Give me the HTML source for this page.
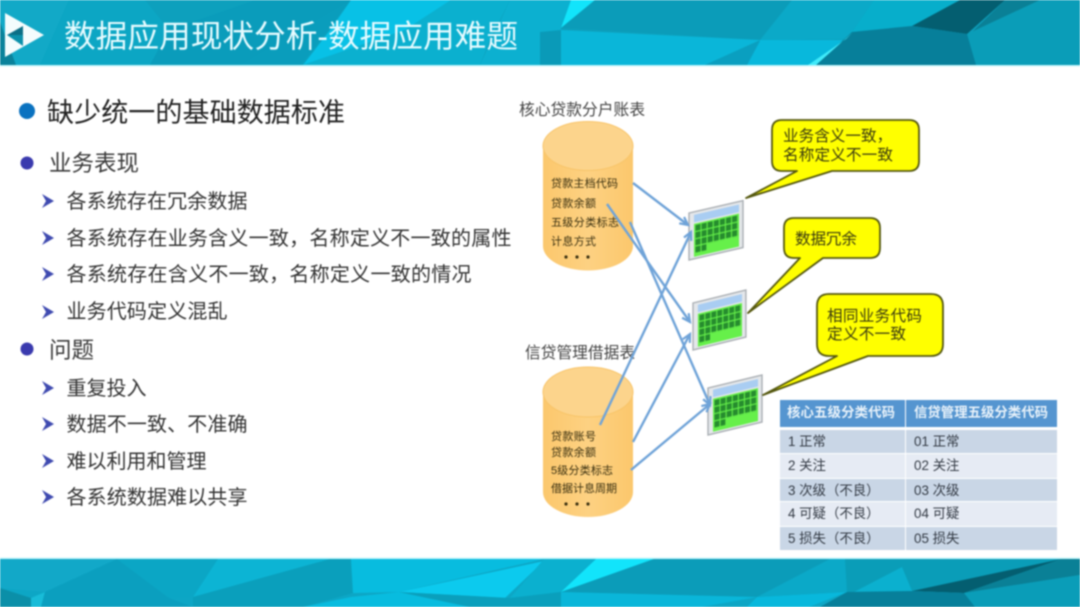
<!DOCTYPE html>
<html lang="zh"><head><meta charset="utf-8"><title>数据应用现状分析</title>
<style>
html,body{margin:0;padding:0;background:#fff;width:1080px;height:607px;overflow:hidden}
svg{display:block;filter:blur(.7px)}
text{font-family:"Liberation Sans","Noto Sans CJK SC",sans-serif}
.p{font-family:"Noto Sans CJK TC",sans-serif}
.b{fill:#333;font-size:20px}
.c{fill:#3a3010;font-size:11px}
.y{fill:#3a3a10;font-size:15.6px}
.t{fill:#333a44;font-size:13.4px}
.h{fill:#e8f2fa;font-size:13.4px;font-weight:700}
.l{stroke:#6fa3d8;stroke-width:2.4;fill:none;marker-end:url(#ah)}
</style></head><body>
<svg width="1080" height="607" viewBox="0 0 1080 607" xmlns="http://www.w3.org/2000/svg">
<defs>
<marker id="ah" markerWidth="12" markerHeight="12" refX="9" refY="5" orient="auto" markerUnits="userSpaceOnUse"><path d="M1 1L9 5L1 9" fill="none" stroke="#6fa3d8" stroke-width="2.200"/></marker>
<linearGradient id="cy" x1="0" x2="1" y1="0" y2="0"><stop offset="0" stop-color="#fbc76c"/><stop offset=".5" stop-color="#fdd182"/><stop offset="1" stop-color="#fbc76c"/></linearGradient>
<pattern id="gr" width="6.1" height="7.2" patternUnits="userSpaceOnUse" x="6.5" y="13.5"><rect width="5" height="6" fill="#268c2e"/></pattern>
<g id="scr">
<polygon points="0,0 54,0 54,47 0,47" fill="#e4e7ea" stroke="#a9aeb3" stroke-width="1.400"/>
<rect x="5" y="3" width="45" height="7.500" fill="#a9cdf2"/>
<rect x="5" y="12" width="45" height="33" fill="#66f04a"/>
<rect x="6.500" y="13.500" width="42.700" height="21.600" fill="url(#gr)"/>
<rect x="6.500" y="35.100" width="10.900" height="6.500" fill="url(#gr)"/>
</g>
</defs>
<rect width="1080" height="607" fill="#fff"/>

<!-- header -->
<rect width="1080" height="65" fill="#0da0bd"/>
<polygon points="0,0 69,0 40,65 0,65" fill="#12a9c7"/>
<polygon points="0,22 16,65 0,65" fill="#0a829b"/>
<polygon points="69,0 145,0 169,30 150,65 40,65" fill="#0ca6c4"/>
<polygon points="169,30 255,0 351,0 300,65 150,65" fill="#0a9cbb"/>
<polygon points="351,0 451,0 380,40 303,65 240,65" fill="#0a9fbc" opacity=".6"/>
<polygon points="351,0 451,0 405,30 303,65 330,30" fill="#08c1e6"/>
<polygon points="451,0 510,0 490,40 480,65 303,65 405,30" fill="#0bb0cf"/>
<polygon points="510,0 571,0 561,28 561,65 480,65" fill="#0cb0d0"/>
<polygon points="540,32 561,30 561,65 540,65" fill="#0a9ab8"/>
<polygon points="561,28 571,0 595,0" fill="#12e4fb"/>
<polygon points="561,28 595,0 792,0 763,40" fill="#0b9cb9"/>
<polygon points="561,30 760,40 705,65 561,65" fill="#0ab6d9"/>
<polygon points="760,40 846,40 808,65 747,65" fill="#08b8dc"/>
<polygon points="705,65 760,41 747,65" fill="#0a9fc0"/>
<polygon points="792,0 874,0 852,32 846,39 760,40" fill="#0ba9c8"/>
<polygon points="874,0 960,0 912,26 852,32" fill="#07aecb"/>
<polygon points="960,0 1005,0 967,34 912,26" fill="#045e70"/>
<polygon points="1005,0 1040,0 972,32" fill="#0a8096"/>
<polygon points="1040,0 1080,0 1080,65 976,65 967,34" fill="#0a9db8"/>
<polygon points="852,32 912,26 967,34 976,65 816,65" fill="#077f9a"/>
<polygon points="846,39 852,33 816,65 808,65" fill="#40eafa"/>
<rect y="65" width="1080" height="1.500" fill="#c8f5fa"/>

<!-- logo -->
<polygon points="5,13 44,35 5,57" fill="#f4fcfd"/>
<polygon points="7,35 23,26 23,35" fill="#0b6f86"/>
<polygon points="7,35 23,35 23,46" fill="#0b90aa"/>
<text x="64" y="47" font-size="31.500" fill="#e6fbff" textLength="454" lengthAdjust="spacingAndGlyphs">数据应用现状分析-数据应用难题</text>

<!-- bottom band -->
<rect y="559" width="1080" height="48" fill="#0da6c5"/>
<polygon points="0,559 117,559 45,592 0,588" fill="#12a8c8"/>
<polygon points="0,588 31,598 31,607 0,607" fill="#0b8fa8"/>
<polygon points="31,598 45,592 41,607 31,607" fill="#18bcd8"/>
<polygon points="117,559 218,559 193,597 169,598" fill="#0ba6c5"/>
<polygon points="117,559 169,598 193,607 41,607 45,592" fill="#0b9fbf"/>
<polygon points="218,559 330,559 193,597" fill="#0cb4d4"/>
<polygon points="330,559 351,559 353,593 303,607 193,607 193,597" fill="#0a9fbc"/>
<polygon points="351,559 544,559 399,592 353,593" fill="#08bcdf"/>
<polygon points="399,592 544,561 505,598" fill="#0ccaee"/>
<polygon points="544,559 596,559 561,592 510,598" fill="#0bb0cf"/>
<polygon points="303,607 351,597 399,592 470,607" fill="#08bcdf"/>
<polygon points="399,592 510,598 561,592 561,607 470,607" fill="#0a9fbc"/>
<polygon points="561,592 596,559 654,559" fill="#12e4fb"/>
<polygon points="561,592 654,559 830,559 757,597" fill="#0b9cb9"/>
<polygon points="561,592 757,597 702,607 561,607" fill="#0ab6d9"/>
<polygon points="757,597 847,592 809,607 747,607" fill="#08b8dc"/>
<polygon points="830,559 845,559 847,592 757,597" fill="#0ba9c8"/>
<polygon points="845,559 1061,559 912,591 847,592" fill="#0a9db8"/>
<polygon points="902,567 912,591 854,592" fill="#0bb0cf"/>
<polygon points="1061,559 964,593 912,591" fill="#045e70"/>
<polygon points="1061,559 1080,559 1080,575 964,593" fill="#0a8096"/>
<polygon points="1080,575 1080,607 975,607 964,593" fill="#0a9db8"/>
<polygon points="847,592 912,591 964,593 975,607 820,607" fill="#077f9a"/>
<rect y="557.500" width="1080" height="1.500" fill="#c8f5fa"/>

<!-- left bullets -->
<circle cx="27" cy="111" r="8" fill="#0a72c0"/>
<circle cx="27" cy="163" r="6.500" fill="#3a3aae"/>
<circle cx="27" cy="349" r="6.500" fill="#3a3aae"/>
<text x="47" y="122" font-size="27" fill="#222" textLength="298">缺少统一的基础数据标准</text>
<text x="49" y="171" font-size="22.500" fill="#3a3a3a" textLength="90">业务表现</text>
<text x="49" y="358" font-size="22.500" fill="#3a3a3a" textLength="45">问题</text>
<g fill="#3f4ab0">
<path d="M42 194L54 201L42 208L46 201Z"/>
<path d="M42 231L54 238L42 245L46 238Z"/>
<path d="M42 267L54 274L42 281L46 274Z"/>
<path d="M42 305L54 312L42 319L46 312Z"/>
<path d="M42 381L54 388L42 395L46 388Z"/>
<path d="M42 417L54 424L42 431L46 424Z"/>
<path d="M42 454L54 461L42 468L46 461Z"/>
<path d="M42 490L54 497L42 504L46 497Z"/>
</g>
<text class="b" x="66.500" y="208" textLength="181">各系统存在冗余数据</text>
<text class="b" x="66.500" y="245" textLength="445">各系统存在业务含义一致<tspan class="p">，</tspan>名称定义不一致的属性</text>
<text class="b" x="66.500" y="281" textLength="405">各系统存在含义不一致<tspan class="p">，</tspan>名称定义一致的情况</text>
<text class="b" x="66.500" y="318" textLength="161">业务代码定义混乱</text>
<text class="b" x="66.500" y="395" textLength="80">重复投入</text>
<text class="b" x="66.500" y="431" textLength="181">数据不一致<tspan class="p">、</tspan>不准确</text>
<text class="b" x="66.500" y="468" textLength="140">难以利用和管理</text>
<text class="b" x="66.500" y="504" textLength="181">各系统数据难以共享</text>

<!-- cylinders -->
<text x="519" y="115" font-size="15.700" fill="#444" textLength="126">核心贷款分户账表</text>
<text x="525" y="358" font-size="15.700" fill="#444" textLength="110">信贷管理借据表</text>
<path d="M543 146V246A45 24.500 0 0 0 633 246V146Z" fill="url(#cy)"/>
<ellipse cx="588" cy="146" rx="45" ry="24.500" fill="#fcd48c" stroke="#f8c468"/>
<path d="M543 392V492A45 25 0 0 0 633 492V392Z" fill="url(#cy)"/>
<ellipse cx="588" cy="392" rx="45" ry="25" fill="#fcd48c" stroke="#f8c468"/>
<text class="c" x="551" y="187" textLength="67">贷款主档代码</text>
<text class="c" x="551" y="207" textLength="45">贷款余额</text>
<text class="c" x="551" y="226" textLength="68">五级分类标志</text>
<text class="c" x="551" y="245" textLength="45">计息方式</text>
<text class="c" x="551" y="440" textLength="45">贷款账号</text>
<text class="c" x="551" y="456" textLength="45">贷款余额</text>
<text class="c" x="551" y="474" textLength="62">5级分类标志</text>
<text class="c" x="551" y="492" textLength="66">借据计息周期</text>
<g fill="#3a3010">
<circle cx="566" cy="257" r="1.600"/><circle cx="577" cy="257" r="1.600"/><circle cx="588" cy="257" r="1.600"/>
<circle cx="566" cy="504" r="1.600"/><circle cx="577" cy="504" r="1.600"/><circle cx="588" cy="504" r="1.600"/>
</g>

<!-- screens -->
<use href="#scr" transform="matrix(1,-.23,0,1,689,213)"/>
<use href="#scr" transform="matrix(.98,-.24,0,1,693,303)"/>
<use href="#scr" transform="matrix(1,-.24,0,1,708,388)"/>

<!-- connectors -->
<path class="l" d="M633 183L688 225"/>
<path class="l" d="M607 204L690 322"/>
<path class="l" d="M630 222L710 405"/>
<path class="l" d="M600 425L691 232"/>
<path class="l" d="M633 442L690 334"/>
<path class="l" d="M631 470L710 404"/>

<!-- callouts -->
<g fill="#ffff00" stroke="#55580f" stroke-width="1.800" stroke-linejoin="round">
<path d="M782 120H909Q919 120 919 130V161Q919 171 909 171H832L746 198L797 171H782Q772 171 772 161V130Q772 120 782 120Z"/>
<path d="M794 218H870Q880 218 880 228V248Q880 258 870 258H823L748 313L800 258H794Q784 258 784 248V228Q784 218 794 218Z"/>
<path d="M829 294H931Q943 294 943 306V344Q943 356 931 356H868L763 395L837 356H829Q817 356 817 344V306Q817 294 829 294Z"/>
</g>
<text class="y" x="783" y="141">业务含义一致<tspan class="p">，</tspan></text>
<text class="y" x="783" y="160" textLength="110">名称定义不一致</text>
<text class="y" x="795" y="244" textLength="62">数据冗余</text>
<text class="y" x="827" y="321" textLength="95">相同业务代码</text>
<text class="y" x="827" y="339" textLength="79">定义不一致</text>

<!-- table -->
<rect x="780" y="400" width="125" height="27" fill="#5595d0"/>
<rect x="906" y="400" width="151" height="27" fill="#5595d0"/>
<rect x="780" y="430" width="277" height="23" fill="#c9d6e6"/>
<rect x="780" y="454" width="277" height="24" fill="#e6ebf4"/>
<rect x="780" y="479" width="277" height="22" fill="#c9d6e6"/>
<rect x="780" y="502" width="277" height="24" fill="#e6ebf4"/>
<rect x="780" y="527" width="277" height="23" fill="#c9d6e6"/>
<rect x="905" y="430" width="1" height="120" fill="#fff"/>
<text class="h" x="787" y="417" textLength="108">核心五级分类代码</text>
<text class="h" x="914" y="417" textLength="134">信贷管理五级分类代码</text>
<text class="t" x="788" y="446">1 正常</text><text class="t" x="914" y="446">01 正常</text>
<text class="t" x="788" y="470">2 关注</text><text class="t" x="914" y="470">02 关注</text>
<text class="t" x="788" y="495">3 次级<tspan class="p">（</tspan>不良<tspan class="p">）</tspan></text><text class="t" x="914" y="495">03 次级</text>
<text class="t" x="788" y="518">4 可疑<tspan class="p">（</tspan>不良<tspan class="p">）</tspan></text><text class="t" x="914" y="518">04 可疑</text>
<text class="t" x="788" y="543">5 损失<tspan class="p">（</tspan>不良<tspan class="p">）</tspan></text><text class="t" x="914" y="543">05 损失</text>
</svg>
</body></html>
